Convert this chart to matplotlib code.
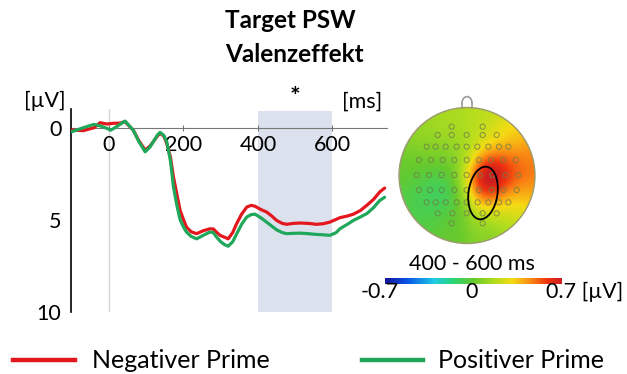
import numpy as np
import matplotlib
matplotlib.use("Agg")
import matplotlib.pyplot as plt
from matplotlib.colors import LinearSegmentedColormap
from matplotlib.patches import Circle, Ellipse, Arc

plt.rcParams['font.family'] = ['Lato', 'DejaVu Sans']

# ---------------- data ----------------
time_neg = [-100, -69, -40, -24, -5, 12, 30, 43, 65, 80, 97, 110, 119, 130, 137, 147, 155, 165, 173, 182,
            191, 200, 208, 220, 235, 253, 270, 280, 290, 298, 310, 320, 332, 343, 356, 370, 382, 392, 408,
            423, 437, 450, 465, 477, 495, 513, 535, 557, 575, 593, 610, 620, 640, 656, 675, 692, 710, 727, 740]
val_neg = [0.13, 0.16, 0.0, -0.27, -0.2, -0.24, -0.25, -0.33, 0.13, 0.7, 1.22, 1.0, 0.76, 0.45, 0.31, 0.45, 0.85,
           1.6, 2.67, 3.6, 4.5, 5.0, 5.4, 5.65, 5.76, 5.6, 5.5, 5.5, 5.7, 5.85, 5.95, 6.04, 5.7, 5.2, 4.7, 4.31,
           4.22, 4.27, 4.45, 4.58, 4.8, 5.04, 5.2, 5.25, 5.2, 5.18, 5.2, 5.25, 5.22, 5.13, 4.98, 4.89, 4.8, 4.7,
           4.5, 4.22, 3.9, 3.49, 3.28]

time_pos = [-100, -69, -40, -24, -10, 5, 20, 43, 65, 80, 97, 110, 119, 130, 137, 147, 155, 165, 173, 182,
            191, 200, 208, 220, 235, 253, 271, 280, 289, 300, 310, 320, 332, 343, 356, 370, 382, 392, 408,
            423, 437, 450, 465, 477, 495, 513, 535, 557, 575, 593, 610, 620, 640, 656, 675, 692, 710, 727, 740]
val_pos = [0.22, 0.0, -0.18, -0.1, 0.0, 0.13, -0.05, -0.36, 0.13, 0.75, 1.31, 1.05, 0.76, 0.4, 0.25, 0.42, 0.76,
           1.8, 3.2, 4.2, 5.0, 5.4, 5.67, 5.9, 6.04, 5.85, 5.67, 5.7, 5.95, 6.2, 6.35, 6.44, 6.2, 5.76, 5.25,
           4.85, 4.72, 4.7, 4.9, 5.13, 5.35, 5.55, 5.7, 5.76, 5.74, 5.73, 5.76, 5.8, 5.82, 5.85, 5.7, 5.49, 5.25,
           5.04, 4.85, 4.67, 4.35, 3.95, 3.78]

x_ticks = [0, 200, 400, 600]
y_ticks = [0, 5, 10]
window = (400, 600)
legend_labels = ["Negativer Prime", "Positiver Prime"]

# electrode positions (normalised head coordinates) and values [µV], 400-600 ms
elec_rows_y = [95, 120, 155, 195, 240, 285, 322, 355, 385]
elec_rows_x = [[170, 263],
               [128, 170, 215, 263, 305],
               [95, 122, 152, 185, 215, 247, 280, 312, 340],
               [72, 108, 143, 178, 215, 252, 288, 325, 362],
               [65, 102, 140, 178, 215, 255, 292, 332, 370],
               [72, 105, 140, 178, 215, 252, 290, 325, 365],
               [95, 122, 152, 185, 215, 248, 280, 312, 340],
               [128, 172, 215, 263, 305],
               [170, 263]]
elec_vals = [[0.15, 0.18],
             [0.12, 0.15, 0.16, 0.2, 0.28],
             [0.1, 0.08, 0.08, 0.1, 0.13, 0.22, 0.32, 0.34, 0.35],
             [0.02, 0.0, 0.0, 0.04, 0.15, 0.5, 0.7, 0.6, 0.45],
             [0.0, -0.04, -0.06, 0.0, 0.24, 0.8, 0.85, 0.62, 0.48],
             [-0.05, -0.14, -0.14, -0.06, 0.2, 0.75, 0.78, 0.55, 0.38],
             [-0.06, -0.12, -0.12, -0.04, 0.1, 0.42, 0.42, 0.32, 0.22],
             [-0.04, -0.02, 0.04, 0.16, 0.14],
             [0.0, 0.06]]
cbar_range = (-0.7, 0.7)

RED = '#e3171e'
GREEN = '#1fa85a'
FS = 15.5

W, H = 627, 374
fig = plt.figure(figsize=(W / 100, H / 100), dpi=100)


def fx(px):
    return px / W


def fy(py):
    return 1 - py / H


# ---------------- ERP axes ----------------
xl = (-102, 745)
yl = (10, -1.0)
x0, x1 = 71, 71 + (xl[1] - xl[0]) * 0.3725
ytop, ybot = 127.7 - 18.4, 127.7 + 18.4 * 10
ax = fig.add_axes([fx(x0), fy(ybot), fx(x1) - fx(x0), (ybot - ytop) / H])
ax.set_xlim(*xl)
ax.set_ylim(*yl)
ax.patch.set_alpha(0)
ax.axvspan(window[0], window[1], ymin=0, ymax=0.99, color='#dbe2ee', zorder=0, lw=0)
ax.axvline(0, color='#d6d6d6', lw=1.0, zorder=1)
ax.plot(time_neg, val_neg, color=RED, lw=2.3, zorder=3, solid_capstyle='round', solid_joinstyle='round')
ax.plot(time_pos, val_pos, color=GREEN, lw=2.3, zorder=4, solid_capstyle='round', solid_joinstyle='round')

for s in ['top', 'right']:
    ax.spines[s].set_visible(False)
ax.spines['left'].set_linewidth(1.2)
ax.spines['bottom'].set_position(('data', 0))
ax.spines['bottom'].set_linestyle((0, (1, 1)))
ax.spines['bottom'].set_color('#777777')
ax.spines['bottom'].set_linewidth(0.8)
ax.spines['bottom'].set_zorder(2)
ax.set_xticks(x_ticks)
ax.set_xticklabels([str(t) for t in x_ticks])
ax.set_yticks(y_ticks)
ax.set_yticklabels([str(t) for t in y_ticks])
ax.tick_params(axis='x', direction='inout', length=4, width=0.8, color='#777777', pad=3, labelsize=FS)
ax.tick_params(axis='y', length=0, pad=7, labelsize=FS)

fig.text(fx(45), fy(101), '[µV]', ha='center', va='center', fontsize=FS)
fig.text(fx(362), fy(102), '[ms]', ha='center', va='center', fontsize=FS)
fig.text(fx(295), fy(98), '*', ha='center', va='center', fontsize=18, fontweight='bold')

# ---------------- title ----------------
fig.text(fx(290), fy(21), 'Target PSW', ha='center', va='center', fontsize=17.5, fontweight='bold')
fig.text(fx(294), fy(55), 'Valenzeffekt', ha='center', va='center', fontsize=17.5, fontweight='bold')

# ---------------- topomap ----------------
cmap = LinearSegmentedColormap.from_list('topo', [
    (0.0, (0.08, 0.08, 0.60)),
    (0.12, (0.04, 0.32, 0.90)),
    (0.28, (0.12, 0.80, 0.90)),
    (0.38, (0.16, 0.83, 0.47)),
    (0.50, (0.40, 0.79, 0.18)),
    (0.62, (0.70, 0.87, 0.12)),
    (0.72, (0.96, 0.86, 0.08)),
    (0.82, (0.98, 0.55, 0.08)),
    (0.92, (0.94, 0.20, 0.06)),
    (1.0, (0.80, 0.12, 0.12)),
])

cxp, cyp, R = 467, 175.5, 68
half = 82
tax = fig.add_axes([fx(cxp - half), fy(cyp + half), 2 * half / W, 2 * half / H])
tax.set_xlim(-half / R, half / R)
tax.set_ylim(-half / R, half / R)
tax.axis('off')

ex, ey, ev = [], [], []
for ry, rxs, rvs in zip(elec_rows_y, elec_rows_x, elec_vals):
    for rx, rv in zip(rxs, rvs):
        ex.append((rx - 216) / 204)
        ey.append(-(ry - 241.5) / 204)
        ev.append(rv)
ex, ey, ev = map(np.array, (ex, ey, ev))

# Gaussian-kernel interpolation of electrode values
sig = 0.15
g = np.linspace(-1.02, 1.02, 300)
GX, GY = np.meshgrid(g, g)
dd2 = (GX[..., None] - ex) ** 2 + (GY[..., None] - ey) ** 2
wk = np.exp(-dd2 / (2 * sig ** 2))
Z = (wk * ev).sum(-1) / wk.sum(-1)
Z = np.clip(Z, *cbar_range)
Z = np.ma.masked_where(np.hypot(GX, GY) > 1.0, Z)
im = tax.imshow(Z, extent=(-1.02, 1.02, -1.02, 1.02), origin='lower', cmap=cmap,
                vmin=cbar_range[0], vmax=cbar_range[1], interpolation='bilinear', zorder=1)
clip = Circle((0, 0), 1.0, transform=tax.transData)
im.set_clip_path(clip)
tax.add_patch(Circle((0, 0), 1.0, fill=False, ec='#9c9c6a', lw=1.0, zorder=3))
tax.add_patch(Arc((0, 1.06), 0.15, 0.2, theta1=0, theta2=180, ec='#9a9a9a', lw=1.2, zorder=3))
tax.plot([-0.075, -0.075], [1.06, 0.99], color='#9a9a9a', lw=1.2)
tax.plot([0.075, 0.075], [1.06, 0.99], color='#9a9a9a', lw=1.2)
tax.scatter(ex, ey, s=14, facecolors='none', edgecolors='#6f7d4a', linewidths=0.7, alpha=0.8, zorder=4)
tax.add_patch(Ellipse(((483 - cxp) / R, -(193 - cyp) / R), 29 / R, 53 / R, angle=-8,
                      fill=False, ec='black', lw=1.3, zorder=5))

# ---------------- colorbar ----------------
cax = fig.add_axes([fx(385), fy(284), (562 - 385) / W, 6 / H])
grad = np.linspace(cbar_range[0], cbar_range[1], 256)[None, :]
cax.imshow(grad, aspect='auto', cmap=cmap, extent=(cbar_range[0], cbar_range[1], 0, 1))
cax.set_xticks([])
cax.set_yticks([])
for s in cax.spines.values():
    s.set_visible(False)
fig.text(fx(472), fy(264), '400 - 600 ms', ha='center', va='center', fontsize=FS)
fig.text(fx(380), fy(292), '-0.7', ha='center', va='center', fontsize=FS)
fig.text(fx(472), fy(292), '0', ha='center', va='center', fontsize=FS)
fig.text(fx(585), fy(292), '0.7 [µV]', ha='center', va='center', fontsize=FS)

# ---------------- legend ----------------
fig.add_artist(plt.Line2D([fx(13), fx(75)], [fy(360), fy(360)], color=RED, lw=3.2))
fig.text(fx(92), fy(360), legend_labels[0], ha='left', va='center', fontsize=18)
fig.add_artist(plt.Line2D([fx(362), fx(423)], [fy(360), fy(360)], color=GREEN, lw=3.2))
fig.text(fx(438), fy(360), legend_labels[1], ha='left', va='center', fontsize=18)

fig.savefig('out.png', dpi=100)
